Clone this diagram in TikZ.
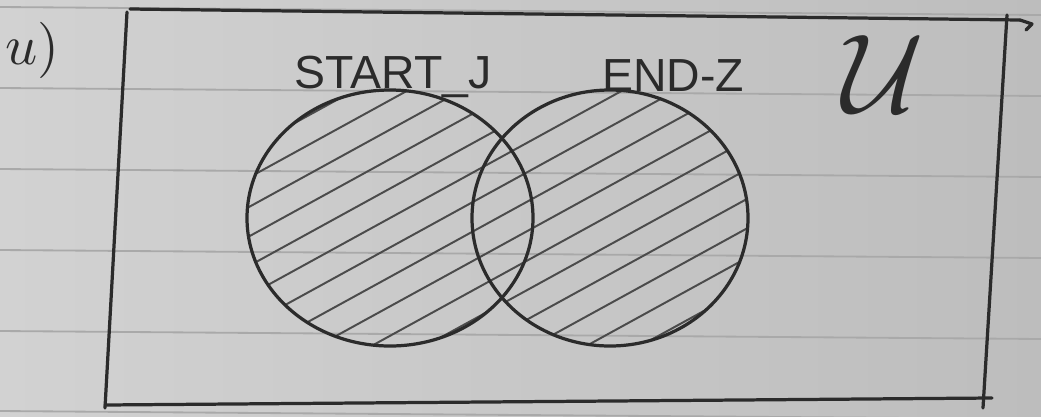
\documentclass[tikz,border=0pt]{standalone}
\usepackage{fontspec}
\setsansfont{Liberation Sans}
\begin{document}
\begin{tikzpicture}[x=0.025cm,y=-0.025cm,
  ink/.style={draw=inkc,line width=2.3pt,line cap=round,line join=round},
  hatchline/.style={draw=inkc!85,line width=1.4pt,line cap=round},
  paperline/.style={draw=lineg,line width=1.3pt},
  lbl/.style={text=inkc,font=\sffamily\fontsize{33}{38}\selectfont,inner sep=0pt}]
\definecolor{inkc}{HTML}{2B2B2B}
\definecolor{lineg}{HTML}{A9A9A9}
\definecolor{paperL}{HTML}{D2D2D2}
\definecolor{paperR}{HTML}{BDBDBD}
\useasboundingbox (0,0) rectangle (1041,416);
\shade[left color=paperL,right color=paperR] (0,0) rectangle (1041,416);
% ruled paper lines
\foreach \y in {7,88,169,250,331,411}
  \draw[paperline] (0,\y) -- (1041,{\y+8});
% hatching of both sets (one family of parallel strokes)
\begin{scope}
  \clip (390,218) ellipse [x radius=143, y radius=128]
        (610,218) ellipse [x radius=138, y radius=128];
  \foreach \i in {-12,...,20}
    \draw[hatchline] ({390+\i*12.5-350},{218+\i*22.6+192}) -- ({390+\i*12.5+350},{218+\i*22.6-192});
\end{scope}
% sets
\draw[ink] (390,218) ellipse [x radius=143, y radius=128];
\draw[ink] (610,218) ellipse [x radius=138, y radius=128];
% universe rectangle (hand drawn strokes)
\draw[ink] (130,9) -- (1020,20);
\draw[ink] (1020,20) -- (1032,24) -- (1026,30);
\draw[ink] (1007,15) -- (983,408);
\draw[ink] (105,405) -- (992,398);
\draw[ink] (127,12) -- (105,408);
% labels
\node[lbl] (startj) at (393,77) {START\_J};
\node[lbl] (endz) at (673,76) {END-Z};
\node[text=inkc,inner sep=0pt,scale=8] (univ) at (883,74) {$\mathcal{U}$};
\node[text=inkc,inner sep=0pt,anchor=west,scale=4] (part) at (4,50) {$u)$};
\end{tikzpicture}
\end{document}
